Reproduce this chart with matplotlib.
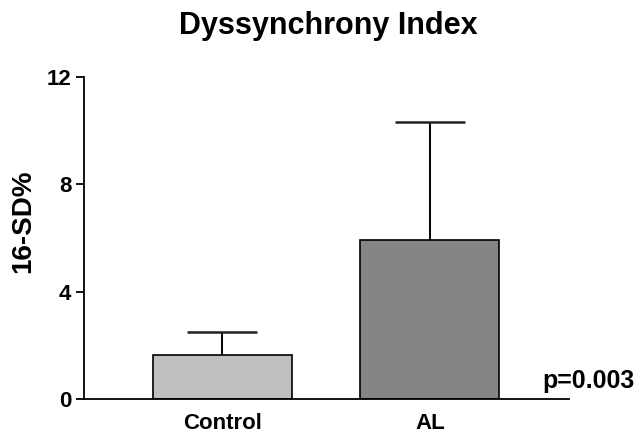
import matplotlib
matplotlib.use('Agg')

import matplotlib.pyplot as plt
import numpy as np

plt.rcParams['font.family'] = ['Liberation Sans', 'DejaVu Sans']

# values
groups = ['Control', 'AL']
means = [1.64, 5.93]
sd = [0.86, 4.39]
bar_colors = ['#c0c0c0', '#858585']
yticks = [0, 4, 8, 12]

fig = plt.figure(figsize=(6.4, 4.34), dpi=100)
ax = fig.add_axes([0.131, 0.0806, 0.758, 0.742])

x = np.arange(len(groups))
means = np.array(means)
sd = np.array(sd)
ax.bar(x, means, width=0.67, color=bar_colors, edgecolor='black', linewidth=1.2, zorder=2)
# upper-only error bars
cap = 0.169
ax.vlines(x, means, means + sd, color='black', linewidth=1.4, zorder=1)
ax.hlines(means + sd, x - cap, x + cap, color='#222222', linewidth=1.8, zorder=1)

ax.set_xlim(-0.667, 1.67)
ax.set_ylim(0, 12)
ax.set_yticks(yticks)
ax.set_xticks(x)
ax.set_xticklabels(groups, fontsize=16, fontweight='bold')
for lab in ax.get_yticklabels():
    lab.set_fontsize(16)
    lab.set_fontweight('bold')

ax.spines['top'].set_visible(False)
ax.spines['right'].set_visible(False)
ax.spines['left'].set_linewidth(1.3)
ax.spines['bottom'].set_linewidth(1.3)
ax.tick_params(axis='y', length=6, width=1.3, pad=3)
ax.tick_params(axis='x', length=0, pad=10)

fig.text(0.036, 0.491, '16-SD%', rotation=90, ha='center', va='center',
         fontsize=20, fontweight='bold')
fig.text(0.5125, 0.922, 'Dyssynchrony Index', ha='center', va='baseline',
         fontsize=22, fontweight='bold')
fig.text(0.847, 0.106, 'p=0.003', ha='left', va='baseline',
         fontsize=18, fontweight='bold')

fig.savefig('out.png', dpi=100)
